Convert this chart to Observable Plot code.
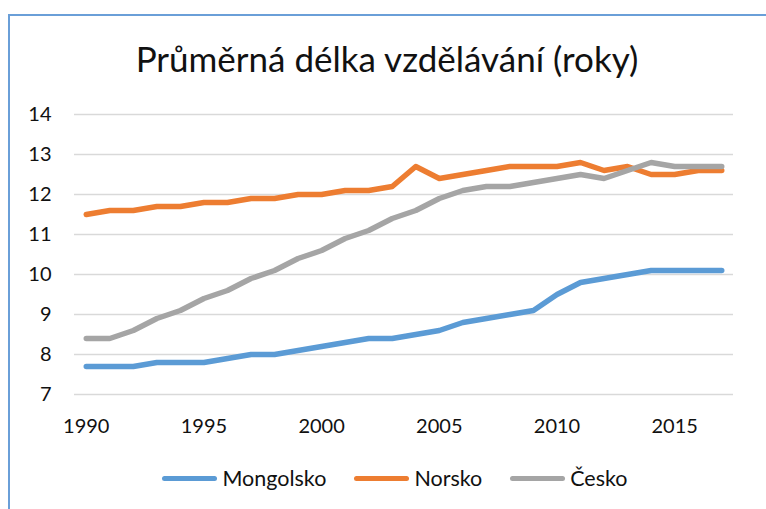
<!DOCTYPE html>
<html>
<head>
<meta charset="utf-8">
<script src="https://cdn.jsdelivr.net/npm/d3@7"></script>
<script src="https://cdn.jsdelivr.net/npm/@observablehq/plot@0.6"></script>
<style>
  html, body { margin: 0; padding: 0; background: #fff; }
  #wrap { position: relative; width: 766px; height: 509px; overflow: hidden; font-family: Lato, "Open Sans", sans-serif; color: #111; }
  #frame { position: absolute; left: 8px; top: 14px; width: 900px; height: 700px; border-left: 2px solid #6a9fd8; border-top: 2px solid #6a9fd8; box-sizing: border-box; }
  #title { position: absolute; left: 0; top: 0; width: 774px; height: 96px; text-align: center; font-size: 35px; line-height: 1; padding-top: 41px; box-sizing: border-box; white-space: nowrap; }
  #chart { position: absolute; left: 0; top: 96px; }
  #legend { position: absolute; left: 0; top: 465px; width: 790px; display: flex; justify-content: center; align-items: center; font-size: 21.5px; line-height: 26px; }
  .item { display: flex; align-items: center; margin: 0 14px; }
  .sw { display: inline-block; width: 55px; height: 5px; border-radius: 3px; margin-right: 5px; }
</style>
</head>
<body>
<div id="wrap">
  <div id="frame"></div>
  <div id="title">Průměrná délka vzdělávání (roky)</div>
  <div id="chart"></div>
  <div id="legend"></div>
</div>
<script>
const years = d3.range(1990, 2018);
const seriesNames = ["Mongolsko", "Norsko", "Česko"];
const seriesColors = ["#5b9bd5", "#ed7d31", "#a5a5a5"];
const mongolsko = [7.7, 7.7, 7.7, 7.8, 7.8, 7.8, 7.9, 8.0, 8.0, 8.1, 8.2, 8.3, 8.4, 8.4, 8.5, 8.6, 8.8, 8.9, 9.0, 9.1, 9.5, 9.8, 9.9, 10.0, 10.1, 10.1, 10.1, 10.1];
const norsko = [11.5, 11.6, 11.6, 11.7, 11.7, 11.8, 11.8, 11.9, 11.9, 12.0, 12.0, 12.1, 12.1, 12.2, 12.7, 12.4, 12.5, 12.6, 12.7, 12.7, 12.7, 12.8, 12.6, 12.7, 12.5, 12.5, 12.6, 12.6];
const cesko = [8.4, 8.4, 8.6, 8.9, 9.1, 9.4, 9.6, 9.9, 10.1, 10.4, 10.6, 10.9, 11.1, 11.4, 11.6, 11.9, 12.1, 12.2, 12.2, 12.3, 12.4, 12.5, 12.4, 12.6, 12.8, 12.7, 12.7, 12.7];
const xTicks = [1990, 1995, 2000, 2005, 2010, 2015];
const yTicks = [7, 8, 9, 10, 11, 12, 13, 14];

const valuesBySeries = [mongolsko, norsko, cesko];
const data = [];
seriesNames.forEach((s, i) => years.forEach((y, j) => data.push({series: s, year: y, value: valuesBySeries[i][j]})));

const chart = Plot.plot({
  width: 766,
  height: 350,
  marginTop: 18,
  marginBottom: 52,
  marginLeft: 74,
  marginRight: 33,
  style: {fontFamily: "Lato, 'Open Sans', sans-serif", fontSize: "20px", color: "#111", background: "transparent"},
  x: {domain: [1989.5, 2017.5], label: null},
  y: {domain: [7, 14], label: null},
  color: {domain: seriesNames, range: seriesColors},
  marks: [
    Plot.ruleY(yTicks, {stroke: "#d9d9d9", strokeWidth: 1.5}),
    Plot.line(data, {x: "year", y: "value", z: "series", stroke: "series", strokeWidth: 5.5, strokeLinejoin: "round", strokeLinecap: "round"}),
    Plot.axisX({ticks: xTicks, tickFormat: d => String(d), tickSize: 0, tickPadding: 24, fontSize: 20, label: null}),
    Plot.axisY({ticks: yTicks, tickFormat: d => String(d), tickSize: 0, tickPadding: 23, fontSize: 20, label: null})
  ]
});
document.getElementById("chart").appendChild(chart);

const legend = document.getElementById("legend");
seriesNames.forEach((s, i) => {
  const item = document.createElement("div");
  item.className = "item";
  const sw = document.createElement("span");
  sw.className = "sw";
  sw.style.background = seriesColors[i];
  const t = document.createElement("span");
  t.textContent = s;
  item.appendChild(sw);
  item.appendChild(t);
  legend.appendChild(item);
});
</script>
</body>
</html>
